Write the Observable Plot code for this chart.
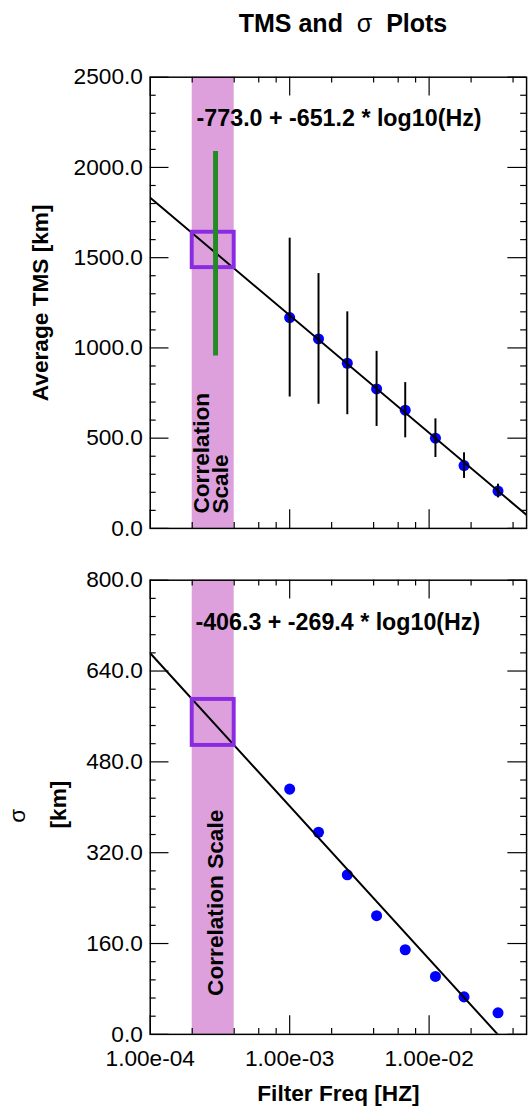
<!DOCTYPE html>
<html><head><meta charset="utf-8">
<script src="https://cdn.jsdelivr.net/npm/d3@7"></script>
<script src="https://cdn.jsdelivr.net/npm/@observablehq/plot@0.6"></script>
<style>
html,body{margin:0;padding:0;background:#fff;overflow:hidden;}
#chart{position:relative;width:532px;height:1113px;overflow:hidden;font-family:"Liberation Sans",Arial,sans-serif;color:#000;}
#title{position:absolute;left:152px;width:382px;top:11px;text-align:center;font-size:25px;line-height:25px;font-weight:bold;white-space:pre;}
.panel{position:absolute;left:0;}
</style></head><body>
<div id="chart"><div id="title">TMS and  <span style="font-weight:normal">σ</span>  Plots</div></div>
<script>
// ---- data ----
const freqHz   = [1.00e-3, 1.61e-3, 2.59e-3, 4.20e-3, 6.74e-3, 1.11e-2, 1.78e-2, 3.12e-2];
const avgTmsKm = [1168, 1050, 915, 773, 655, 500, 348, 207];
const tmsErrKm = [440, 362, 285, 208, 153, 107, 71, 38];
const sigmaKm  = [432, 356, 281, 209, 149, 102, 66, 38];
const tmsFit   = {intercept: -773.0, slope: -651.2};
const sigmaFit = {intercept: -406.3, slope: -269.4};
const tmsFitLabel = "-773.0 + -651.2 * log10(Hz)";
const sigmaFitLabel = "-406.3 + -269.4 * log10(Hz)";
const corrBand = [2e-4, 4e-4];
const corrFreq = 2.94e-4;
const corrTmsRange = [955, 2089];
const tmsBox = [1445, 1641];
const sigmaBox = [509, 590];
const xDomain = [1e-4, 0.05];
const xMajorTicks = [1e-4, 1e-3, 1e-2];
const xMinorTicks = [2e-4, 4e-4, 6e-4, 8e-4, 2e-3, 4e-3, 6e-3, 8e-3, 2e-2, 4e-2];
const tmsMajorTicks = [0, 500, 1000, 1500, 2000, 2500];
const tmsMinorTicks = [100,200,300,400,600,700,800,900,1100,1200,1300,1400,1600,1700,1800,1900,2100,2200,2300,2400];
const sigmaMajorTicks = [0, 160, 320, 480, 640, 800];
const sigmaMinorTicks = [32,64,96,128,192,224,256,288,352,384,416,448,512,544,576,608,672,704,736,768];

// ---- layout ----
const FONT = '"Liberation Sans", Arial, sans-serif';
const W = 540, ML = 152, MR = 6, FW = W - ML - MR;
const BAND = "#dda0dd", BOX = "#8a2be2", GREEN = "#228b22";

const rows = freqHz.map((f, i) => ({f, tms: avgTmsKm[i], err: tmsErrKm[i], sigma: sigmaKm[i]}));
const fitLine = (fit) => xDomain.map(f => ({f, v: fit.intercept + fit.slope * Math.log10(f)}));
const fmtY = d3.format(".1f");
const fmtX = d => { const [m, e] = d.toExponential(2).split("e"); return m + "e" + (e[0] === "-" ? "-" : "+") + e.replace(/^[-+]/, "").padStart(2, "0"); };

function tickMarks(H, yMajor, yMinor) {
  const s = {stroke: "black", strokeWidth: 1.2};
  return [
    Plot.tickX(xMajorTicks, {x: d => d, insetTop: H - 19, ...s}),
    Plot.tickX(xMajorTicks, {x: d => d, insetBottom: H - 19, ...s}),
    Plot.tickX(xMinorTicks, {x: d => d, insetTop: H - 6, ...s}),
    Plot.tickX(xMinorTicks, {x: d => d, insetBottom: H - 6, ...s}),
    Plot.tickY(yMajor, {y: d => d, insetRight: FW - 19, ...s}),
    Plot.tickY(yMajor, {y: d => d, insetLeft: FW - 19, ...s}),
    Plot.tickY(yMinor, {y: d => d, insetRight: FW - 6, ...s}),
    Plot.tickY(yMinor, {y: d => d, insetLeft: FW - 6, ...s})
  ];
}

// ---- top panel ----
const topH = 458;
const topPlot = Plot.plot({
  width: W, height: 20 + topH + 10,
  marginTop: 20, marginBottom: 10, marginLeft: ML, marginRight: MR,
  x: {type: "log", domain: xDomain, axis: null},
  y: {domain: [0, 2500]},
  style: {fontFamily: FONT, fontSize: "23px", color: "black", background: "transparent", overflow: "visible"},
  marks: [
    Plot.rect([corrBand], {x1: d => d[0], x2: d => d[1], fill: BAND}),
    Plot.dot(rows, {x: "f", y: "tms", r: 5.6, fill: "blue"}),
    Plot.line(fitLine(tmsFit), {x: "f", y: "v", stroke: "black", strokeWidth: 2, clip: true}),
    Plot.ruleX(rows, {x: "f", y1: d => d.tms - d.err, y2: d => d.tms + d.err, stroke: "black", strokeWidth: 2}),
    Plot.rect([{x1: corrBand[0], x2: corrBand[1], y1: tmsBox[0], y2: tmsBox[1]}], {x1: "x1", x2: "x2", y1: "y1", y2: "y2", fill: "none", stroke: BOX, strokeWidth: 4}),
    Plot.ruleX([corrFreq], {x: d => d, y1: corrTmsRange[0], y2: corrTmsRange[1], stroke: GREEN, strokeWidth: 5}),
    Plot.text([tmsFitLabel], {x: 2.15e-4, y: 2227, textAnchor: "start", lineAnchor: "bottom", fontWeight: "bold", fontSize: 23.6}),
    Plot.text(["Correlation\nScale"], {x: 3.62e-4, y: 82, rotate: -90, textAnchor: "start", lineAnchor: "bottom", lineHeight: 0.83, fontWeight: "bold", fontSize: 23}),
    Plot.text(["Average TMS [km]"], {frameAnchor: "left", dx: -103.5, rotate: -90, textAnchor: "middle", lineAnchor: "bottom", fontWeight: "bold", fontSize: 23}),
    ...tickMarks(topH, tmsMajorTicks, tmsMinorTicks),
    Plot.axisY({ticks: tmsMajorTicks, tickSize: 0, tickPadding: 7.5, tickFormat: fmtY, fontSize: 23, label: null}),
    Plot.frame({stroke: "black", strokeWidth: 1.5})
  ]
});
topPlot.classList.add("panel");
topPlot.style.top = "57px";

// ---- bottom panel ----
const botH = 461;
const botPlot = Plot.plot({
  width: W, height: 20 + botH + 72,
  marginTop: 20, marginBottom: 72, marginLeft: ML, marginRight: MR,
  x: {type: "log", domain: xDomain},
  y: {domain: [0, 800]},
  style: {fontFamily: FONT, fontSize: "23px", color: "black", background: "transparent", overflow: "visible"},
  marks: [
    Plot.rect([corrBand], {x1: d => d[0], x2: d => d[1], fill: BAND}),
    Plot.dot(rows, {x: "f", y: "sigma", r: 5.6, fill: "blue"}),
    Plot.line(fitLine(sigmaFit), {x: "f", y: "v", stroke: "black", strokeWidth: 2, clip: true}),
    Plot.rect([{x1: corrBand[0], x2: corrBand[1], y1: sigmaBox[0], y2: sigmaBox[1]}], {x1: "x1", x2: "x2", y1: "y1", y2: "y2", fill: "none", stroke: BOX, strokeWidth: 4}),
    Plot.text([sigmaFitLabel], {x: 2.11e-4, y: 711.5, textAnchor: "start", lineAnchor: "bottom", fontWeight: "bold", fontSize: 23.6}),
    Plot.text(["Correlation Scale"], {x: 3.33e-4, y: 67.7, rotate: -90, textAnchor: "start", lineAnchor: "bottom", fontWeight: "bold", fontSize: 23}),
    Plot.text(["σ"], {frameAnchor: "left", dx: -127, dy: 8.5, rotate: -90, textAnchor: "middle", lineAnchor: "bottom", fontWeight: "normal", fontSize: 23}),
    Plot.text(["[km]"], {frameAnchor: "left", dx: -85.2, dy: -2.8, rotate: -90, textAnchor: "middle", lineAnchor: "bottom", fontWeight: "bold", fontSize: 23}),
    Plot.text(["Filter Freq [HZ]"], {frameAnchor: "bottom", dy: 68, textAnchor: "middle", lineAnchor: "bottom", fontWeight: "bold", fontSize: 23}),
    ...tickMarks(botH, sigmaMajorTicks, sigmaMinorTicks),
    Plot.axisY({ticks: sigmaMajorTicks, tickSize: 0, tickPadding: 7.5, tickFormat: fmtY, fontSize: 23, label: null}),
    Plot.axisX({ticks: xMajorTicks, tickSize: 0, tickPadding: 15.5, tickFormat: fmtX, fontSize: 23, label: null}),
    Plot.frame({stroke: "black", strokeWidth: 1.5})
  ]
});
botPlot.classList.add("panel");
botPlot.style.top = "560px";

const chart = document.getElementById("chart");
chart.appendChild(topPlot);
chart.appendChild(botPlot);
</script>
</body></html>
